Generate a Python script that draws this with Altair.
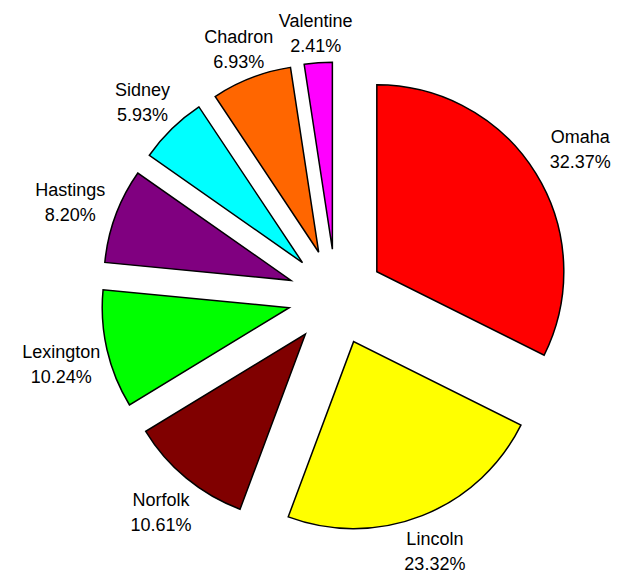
import altair as alt
import pandas as pd

cities = ["Omaha", "Lincoln", "Norfolk", "Lexington", "Hastings", "Sidney", "Chadron", "Valentine"]
shares = [32.37, 23.32, 10.61, 10.24, 8.20, 5.93, 6.93, 2.41]
colors = ["#FF0000", "#FFFF00", "#800000", "#00FF00", "#800080", "#00FFFF", "#FF6600", "#FF00FF"]

df = pd.DataFrame({"city": cities, "share": shares, "order": list(range(len(cities)))})

CX, CY = 328, 289
EXPLODE = 48
R = 187
LR = 245
HW, HH = 36, 23

base = alt.Chart(df).transform_joinaggregate(
    total="sum(share)"
).transform_window(
    cum="sum(share)", sort=[alt.SortField("order")], frame=[None, 0]
).transform_calculate(
    a0="(datum.cum - datum.share) / datum.total * 2 * PI",
    a1="datum.cum / datum.total * 2 * PI",
).transform_calculate(
    mid="(datum.a0 + datum.a1) / 2",
).transform_calculate(
    cx=f"{CX} + {EXPLODE} * sin(datum.mid)",
    cy=f"{CY} - {EXPLODE} * cos(datum.mid)",
    s="sin(datum.mid)",
    c="-cos(datum.mid)",
).transform_calculate(
    k=f"min({HW} / max(abs(datum.s), 0.001), {HH} / max(abs(datum.c), 0.001))",
).transform_calculate(
    lx=f"{CX} + {LR} * datum.s + datum.k * datum.s",
    ly=f"{CY} + {LR} * datum.c + datum.k * datum.c + 5",
    label="datum.city + '\\n' + format(datum.share, '.2f') + '%'",
)

arcs = base.mark_arc(outerRadius=R, stroke="black", strokeWidth=1.5).encode(
    x=alt.X("cx:Q", scale=None),
    y=alt.Y("cy:Q", scale=None),
    theta=alt.Theta("a0:Q", scale=None, stack=False),
    theta2="a1:Q",
    color=alt.Color("city:N", scale=alt.Scale(domain=cities, range=colors), legend=None),
)

labels = base.mark_text(
    font="Liberation Sans", fontSize=18, lineBreak="\n", lineHeight=25,
    align="center", baseline="middle", color="black", dy=-12.5,
).encode(
    x=alt.X("lx:Q", scale=None),
    y=alt.Y("ly:Q", scale=None),
    text="label:N",
)

chart = alt.layer(arcs, labels).properties(
    width=603, height=564, padding=0, autosize="none"
).configure_view(stroke=None)

chart.save("out.html", embed_options={"renderer": "svg", "actions": False})
